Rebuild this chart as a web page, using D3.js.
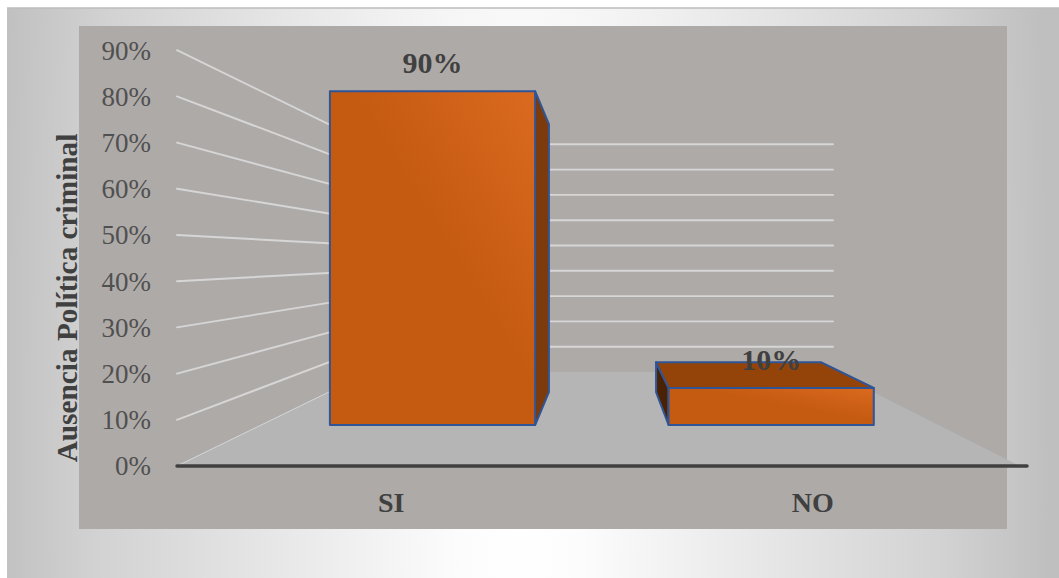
<!DOCTYPE html>
<html><head><meta charset="utf-8">
<script src="https://cdn.jsdelivr.net/npm/d3@7"></script>
<style>html,body{margin:0;padding:0;background:#fff}svg{display:block}text{font-family:"Liberation Serif",serif;fill:#404040}</style>
</head><body><div id="c"></div>
<script>
const categories = ["SI", "NO"];
const values = [0.9, 0.1];
const tickValues = [0, 0.1, 0.2, 0.3, 0.4, 0.5, 0.6, 0.7, 0.8, 0.9];
const axisTitle = "Ausencia Política criminal";

const W = 1059, H = 578;
const svg = d3.select("#c").append("svg").attr("width", W).attr("height", H);
const defs = svg.append("defs");

const bg = defs.append("radialGradient").attr("id", "bg").attr("gradientUnits", "userSpaceOnUse")
  .attr("cx", 0).attr("cy", 0).attr("r", 1).attr("gradientTransform", "translate(520 480) scale(530 2500)");
[[0, "#ffffff"], [0.12, "#fcfcfc"], [0.35, "#eeeeee"], [0.8, "#d2d2d2"], [1, "#bfbfbf"]].forEach(([o, c]) =>
  bg.append("stop").attr("offset", o).attr("stop-color", c));

const barGrad = defs.append("linearGradient").attr("id", "barGrad").attr("x1", 1).attr("y1", 0).attr("x2", 0.55).attr("y2", 0.45);
barGrad.append("stop").attr("offset", 0).attr("stop-color", "#da6a20");
barGrad.append("stop").attr("offset", 1).attr("stop-color", "#c55a11");

svg.append("rect").attr("x", 7).attr("y", 8).attr("width", W - 7).attr("height", H - 8).attr("fill", "url(#bg)");
svg.append("line").attr("x1", 7).attr("x2", W).attr("y1", 8).attr("y2", 8).attr("stroke", "#bdbdbd").attr("stroke-width", 1.5);
svg.append("rect").attr("x", 79).attr("y", 26).attr("width", 928).attr("height", 503).attr("fill", "#aeaaa8");

// Projection: u across the floor [0,1], depth d front→back [0,1]
const floorY = d3.scaleLinear().domain([0, 1]).range([466, 372]);
const leftX = d3.scaleLinear().domain([0, 1]).range([177, 370]);
const rightX = d3.scaleLinear().domain([0, 1]).range([1020, 833]);
const unit = d3.scaleLinear().domain([0, 1]).range([46.2 / 0.1, 25.3 / 0.1]);
const px = (u, d) => d3.scaleLinear().domain([0, 1]).range([leftX(d), rightX(d)])(u);
const py = (v, d) => floorY(d) - v * unit(d);
const P = (u, v, d) => [px(u, d), py(v, d)];
const line = d3.line();
const poly = pts => line(pts) + "Z";

const yFront = d3.scaleLinear().domain([0, 0.9]).range([py(0, 0), py(0.9, 0)]);
const band = d3.scaleBand().domain(categories).range([0.003, 1.003]).paddingInner(0.394).paddingOuter(0.197);

// floor
svg.append("path").attr("d", poly([P(0, 0, 0), P(1, 0, 0), P(1, 0, 1), P(0, 0, 1)])).attr("fill", "#b5b5b5");

// grid
const grid = svg.append("g").attr("fill", "none").attr("stroke", "#d6d6d6").attr("stroke-linecap", "round");
tickValues.forEach(v => {
  grid.append("path").attr("d", line([P(0, v, 0), P(0, v, 1)])).attr("stroke-width", v === 0 ? 1 : 1.9);
  if (v > 0) grid.append("path").attr("d", line([P(0, v, 1), P(1, v, 1)])).attr("stroke-width", 1.9);
});

// axis line
svg.append("line").attr("x1", px(0, 0)).attr("x2", 1027).attr("y1", py(0, 0)).attr("y2", py(0, 0))
  .attr("stroke", "#404040").attr("stroke-width", 3.5).attr("stroke-linecap", "round");

// y axis
const yAxis = svg.append("g").attr("transform", `translate(${px(0, 0)},0)`)
  .call(d3.axisLeft(yFront).tickValues(tickValues).tickFormat(d3.format(".0%")).tickSize(0).tickPadding(26));
yAxis.select(".domain").remove();
yAxis.selectAll("text").style("font-size", "27px").style("font-family", '"Liberation Serif",serif').style("fill", "#505050").attr("dy", "0.33em");

// bars
const d1 = 0.436, d2 = 0.787;
const bars = svg.append("g").attr("stroke", "#2f5597").attr("stroke-width", 2).attr("stroke-linejoin", "round");
categories.forEach((c, i) => {
  const u0 = band(c), u1 = u0 + band.bandwidth(), v = values[i];
  const g = bars.append("g");
  if (px(u1, d2) > px(u1, d1)) g.append("path").attr("fill", "#7d3a0b").attr("d", poly([P(u1, 0, d1), P(u1, v, d1), P(u1, v, d2), P(u1, 0, d2)]));
  if (px(u0, d2) < px(u0, d1)) g.append("path").attr("fill", "#4a2203").attr("d", poly([P(u0, 0, d1), P(u0, v, d1), P(u0, v, d2), P(u0, 0, d2)]));
  if (py(v, d2) < py(v, d1)) g.append("path").attr("fill", "#944409").attr("d", poly([P(u0, v, d1), P(u1, v, d1), P(u1, v, d2), P(u0, v, d2)]));
  g.append("path").attr("fill", "url(#barGrad)").attr("d", poly([P(u0, 0, d1), P(u1, 0, d1), P(u1, v, d1), P(u0, v, d1)]));
});

// data labels
categories.forEach((c, i) => {
  const u = band(c) + band.bandwidth() / 2, v = values[i];
  svg.append("text").attr("x", px(u, d1)).attr("y", py(v, d1) - 18)
    .attr("text-anchor", "middle").attr("font-weight", "bold").attr("font-size", 30).text(d3.format(".0%")(v));
});

// category labels
categories.forEach(c => {
  svg.append("text").attr("x", px(band(c) + band.bandwidth() / 2, 0) + 1).attr("y", 512)
    .attr("text-anchor", "middle").attr("font-weight", "bold").attr("font-size", 28).text(c);
});

// axis title
svg.append("text").attr("transform", "translate(77,298) rotate(-90)").attr("text-anchor", "middle")
  .attr("font-weight", "bold").attr("font-size", 29.3).text(axisTitle);
</script></body></html>
